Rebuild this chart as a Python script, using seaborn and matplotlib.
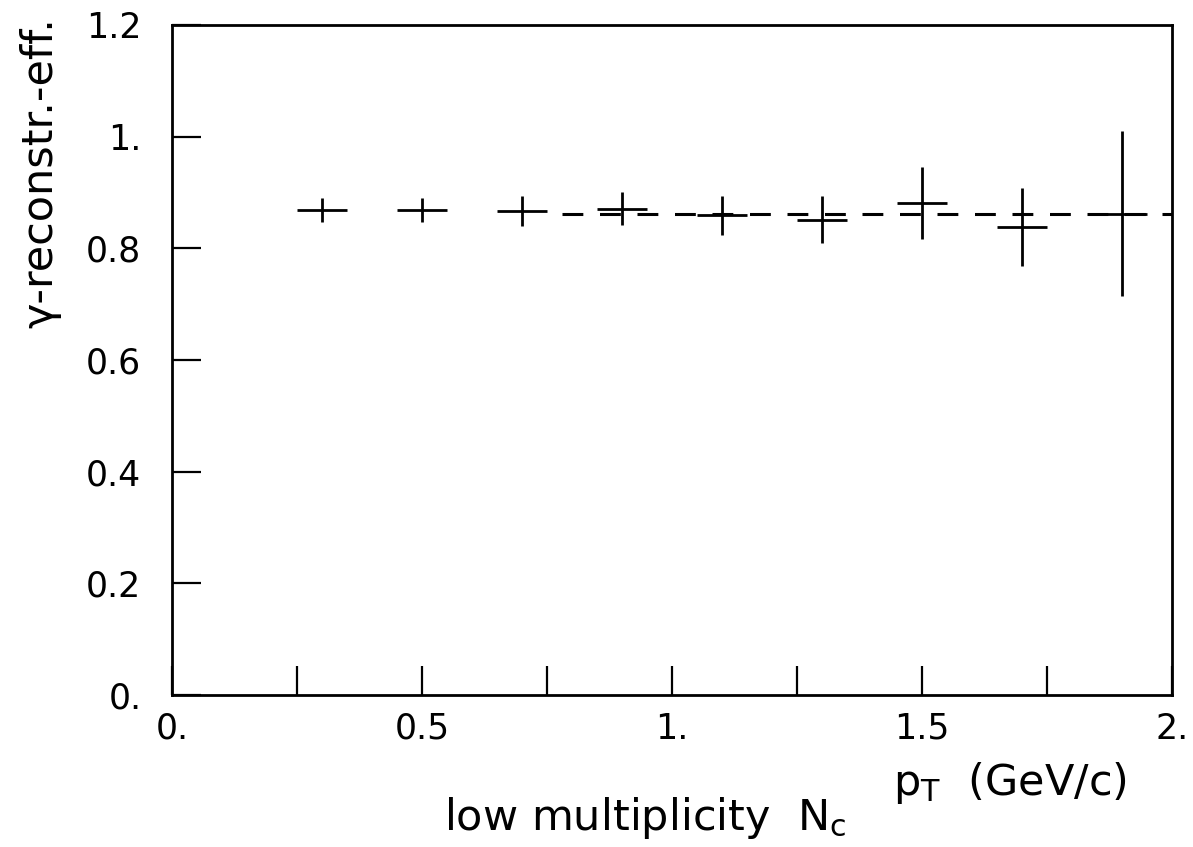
import matplotlib
matplotlib.use("Agg")
import matplotlib.pyplot as plt
import seaborn as sns
import numpy as np
import pandas as pd

# ---- data ----
pt_centers = [0.3, 0.5, 0.7, 0.9, 1.1, 1.3, 1.5, 1.7, 1.9]
efficiency = [0.869, 0.869, 0.867, 0.871, 0.859, 0.851, 0.881, 0.838, 0.862]
eff_err = [0.021, 0.022, 0.027, 0.030, 0.035, 0.042, 0.064, 0.070, 0.148]
pt_halfwidth = [0.05, 0.05, 0.05, 0.05, 0.05, 0.05, 0.05, 0.05, 0.05]
fit_x = [0.78, 2.0]
fit_y = [0.862, 0.862]

x_ticks = [0.0, 0.25, 0.5, 0.75, 1.0, 1.25, 1.5, 1.75, 2.0]
x_ticklabels = ["0.", "", "0.5", "", "1.", "", "1.5", "", "2."]
y_ticks = [0.0, 0.2, 0.4, 0.6, 0.8, 1.0, 1.2]
y_ticklabels = ["0.", "0.2", "0.4", "0.6", "0.8", "1.", "1.2"]

sns.set_style("ticks")
plt.rcParams["font.family"] = ["DejaVu Sans"]
plt.rcParams["lines.scale_dashes"] = False
plt.rcParams["text.color"] = "black"

fig = plt.figure(figsize=(11.93, 8.47), dpi=100)
ax = fig.add_axes([172 / 1193, 1 - 695 / 847, 1000 / 1193, 670 / 847])

df = pd.DataFrame({"pt": pt_centers, "eff": efficiency})
fit_df = pd.DataFrame({"pt": fit_x, "eff": fit_y})

sns.lineplot(data=fit_df, x="pt", y="eff", ax=ax, color="black",
             linewidth=2.2, linestyle=(0, (15, 12)))
ax.errorbar(df["pt"], df["eff"], yerr=eff_err, xerr=pt_halfwidth,
            fmt="none", ecolor="black", elinewidth=2.0, capsize=0)

ax.set_xlim(0, 2.0)
ax.set_ylim(0, 1.2)
ax.set_xticks(x_ticks)
ax.set_xticklabels(x_ticklabels)
ax.set_yticks(y_ticks)
ax.set_yticklabels(y_ticklabels)
ax.tick_params(axis="both", direction="in", length=21, width=1.6,
               labelsize=25, color="black", labelcolor="black")
ax.tick_params(axis="x", pad=12)
ax.tick_params(axis="y", pad=22)
ax.set_xlabel("")
ax.set_ylabel("")
for s in ax.spines.values():
    s.set_linewidth(2.0)
    s.set_color("black")

ax.text(-0.132, 1.012, "γ-reconstr.-eff.", transform=ax.transAxes,
        rotation=90, ha="center", va="top", fontsize=31, color="black")
fig.text(1010 / 1193, 1 - 783 / 847, r"p$_\mathrm{T}$  (GeV/c)",
         ha="center", va="center", fontsize=31, color="black")
fig.text(645 / 1193, 1 - 818 / 847, r"low multiplicity  N$_\mathrm{c}$",
         ha="center", va="center", fontsize=31, color="black")

fig.savefig("out.png", dpi=100)
